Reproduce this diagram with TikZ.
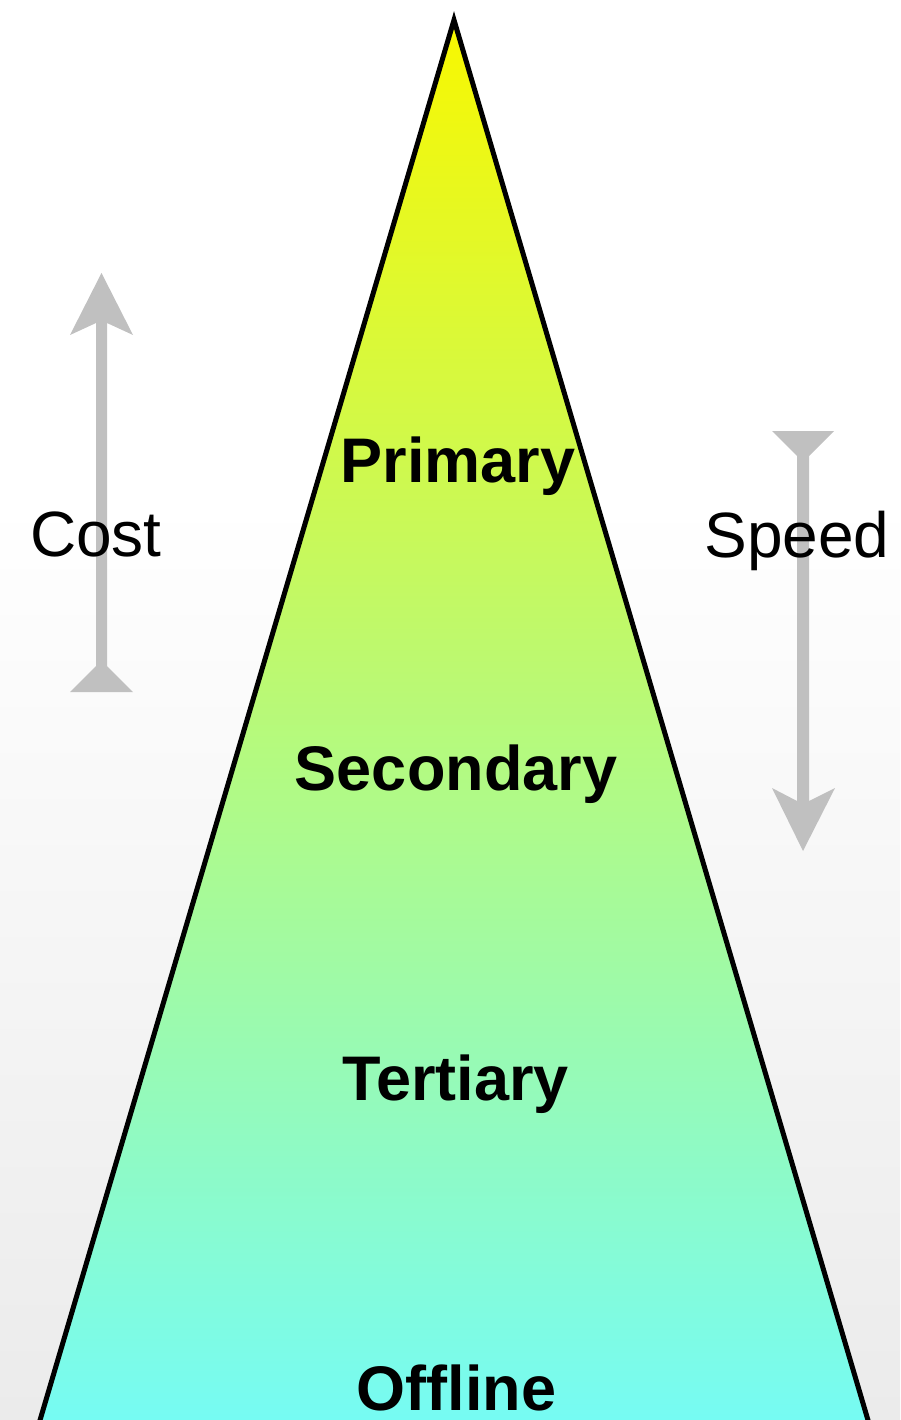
\documentclass[tikz,border=0pt]{standalone}
\usepackage{fontspec}
\setmainfont{Liberation Sans}
\definecolor{tipyellow}{RGB}{248,248,0}
\definecolor{basecyan}{RGB}{117,251,245}
\definecolor{arrowgray}{RGB}{192,192,192}
\definecolor{floorgray}{RGB}{235,235,235}
\tikzset{
  level/.style={anchor=base, inner sep=0pt, font=\fontsize{63}{70}\selectfont\bfseries},
  axislabel/.style={anchor=base, inner sep=0pt, font=\fontsize{64}{72}\selectfont},
  axisarrow/.style={fill=arrowgray, draw=none},
  pyramid/.style={draw=black, line width=5pt, line join=miter, top color=tipyellow, bottom color=basecyan}
}
\begin{document}
\begin{tikzpicture}[x=1pt, y=-1pt]
  \useasboundingbox (0,0) rectangle (900,1420);
  % backdrop: white above, fading to light grey below
  \fill[white] (0,0) rectangle (900,500);
  \shade[top color=white, bottom color=floorgray] (0,500) rectangle (900,1420);

  % the pyramid of storage tiers
  \begin{scope}
    \clip (0,0) rectangle (900,1420);
    \path[pyramid] (454,20) coordinate (apex) -- (870.9,1430) -- (37.1,1430) -- cycle;
  \end{scope}

  % cost axis, pointing up
  \path[axisarrow] (101.5,273) coordinate (costtip) -- (133,335) -- (107,323) -- (107,666)
    -- (133,692) -- (70,692) -- (96,666) -- (96,323) -- (70,335) -- cycle;
  % speed axis, pointing down
  \path[axisarrow] (772,431) -- (834,431) -- (809,456) -- (809,801) -- (835,788)
    -- (803,851) coordinate (speedtip) -- (772,788) -- (797,801) -- (797,456) -- cycle;

  \node[axislabel] (cost) at (96,556) {Cost};
  \node[axislabel] (speed) at (797,557) {Speed};

  \node[level] (primary) at (458,482) {Primary};
  \node[level] (secondary) at (456,790) {Secondary};
  \node[level] (tertiary) at (455.5,1100) {Tertiary};
  \node[level] (offline) at (456.5,1410) {Offline};
\end{tikzpicture}
\end{document}
